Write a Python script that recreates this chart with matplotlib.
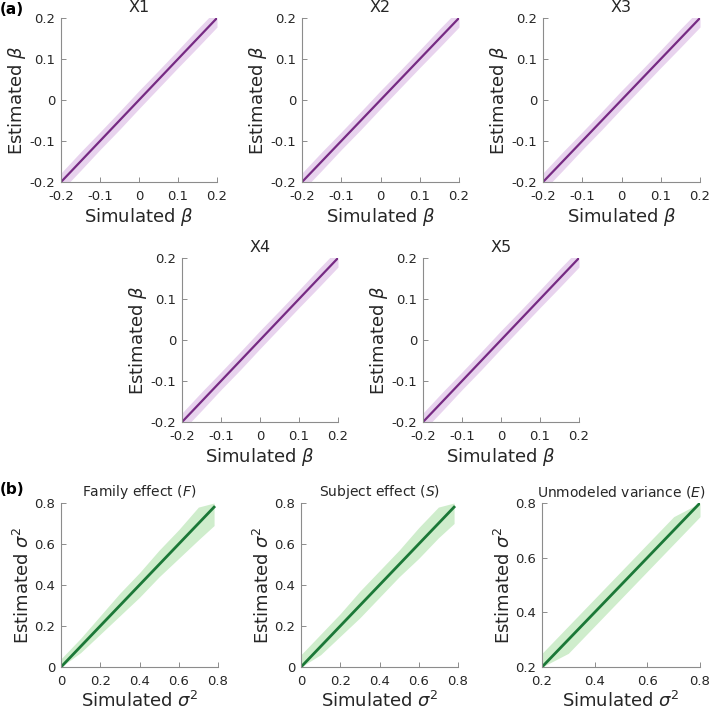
import numpy as np
import matplotlib
matplotlib.use('Agg')
import matplotlib.pyplot as plt

W, H = 709, 712

# --- data ---
# fixed effects X1..X5: identity line and spread of estimates
beta_titles = ['X1', 'X2', 'X3', 'X4', 'X5']
beta_x = [-0.2, -0.15, -0.1, -0.05, 0.0, 0.05, 0.1, 0.15, 0.2]
beta_lo = [-0.222, -0.172, -0.121, -0.072, -0.021, 0.029, 0.079, 0.128, 0.178]
beta_hi = [-0.178, -0.127, -0.078, -0.028, 0.023, 0.072, 0.122, 0.173, 0.222]
beta_ticks = [-0.2, -0.1, 0, 0.1, 0.2]
beta_ticklabels = ['-0.2', '-0.1', '0', '0.1', '0.2']

# variance components
var_titles = ['Family effect ($F$)', 'Subject effect ($S$)', 'Unmodeled variance ($E$)']
fam_x = [0.0, 0.1, 0.2, 0.3, 0.4, 0.5, 0.6, 0.7, 0.78]
fam_lo = [0.0, 0.07, 0.16, 0.25, 0.34, 0.44, 0.53, 0.62, 0.69]
fam_hi = [0.04, 0.14, 0.25, 0.36, 0.46, 0.57, 0.67, 0.78, 0.80]
sub_x = [0.0, 0.1, 0.2, 0.3, 0.4, 0.5, 0.6, 0.7, 0.78]
sub_lo = [0.0, 0.06, 0.15, 0.24, 0.34, 0.44, 0.53, 0.63, 0.70]
sub_hi = [0.06, 0.16, 0.26, 0.37, 0.47, 0.57, 0.68, 0.78, 0.80]
unm_x = [0.2, 0.3, 0.4, 0.5, 0.6, 0.7, 0.8]
unm_lo = [0.2, 0.25, 0.35, 0.45, 0.55, 0.65, 0.75]
unm_hi = [0.25, 0.35, 0.45, 0.55, 0.65, 0.75, 0.8]
var_series = [(fam_x, fam_lo, fam_hi), (sub_x, sub_lo, sub_hi), (unm_x, unm_lo, unm_hi)]
var_lims = [(0, 0.8), (0, 0.8), (0.2, 0.8)]
var_ticks = [[0, 0.2, 0.4, 0.6, 0.8], [0, 0.2, 0.4, 0.6, 0.8], [0.2, 0.4, 0.6, 0.8]]

PURPLE = '#762a83'
PURPLE_L = '#e8d3ee'
GREEN = '#1b7837'
GREEN_L = '#cfedcc'
TXT = '#262626'
SPINE = '#8c8c8c'


def rect(l, r, t, b):
    return [l / W, 1 - b / H, (r - l) / W, (b - t) / H]


def style(ax):
    for s in ['top', 'right']:
        ax.spines[s].set_visible(False)
    for s in ['left', 'bottom']:
        ax.spines[s].set_color(SPINE)
        ax.spines[s].set_linewidth(0.8)
    ax.tick_params(direction='in', length=3.5, width=0.7, color=SPINE,
                   labelsize=9.5, labelcolor=TXT)
    ax.tick_params(axis='x', pad=6)
    ax.tick_params(axis='y', pad=4)


fig = plt.figure(figsize=(W / 100, H / 100), dpi=100)

beta_boxes = [(61, 217, 18, 182), (302, 459, 18, 182), (543, 700, 18, 182),
              (182, 338, 258, 422), (423, 579, 258, 422)]

for title, box in zip(beta_titles, beta_boxes):
    ax = fig.add_axes(rect(*box))
    ax.fill_between(beta_x, beta_lo, beta_hi, color=PURPLE_L, lw=0)
    ax.plot([beta_x[0], beta_x[-1]], [beta_x[0], beta_x[-1]], color=PURPLE, lw=1.6)
    ax.set_xlim(-0.2, 0.2)
    ax.set_ylim(-0.2, 0.2)
    ax.set_xticks(beta_ticks)
    ax.set_xticklabels(beta_ticklabels)
    ax.set_yticks(beta_ticks)
    ax.set_yticklabels(beta_ticklabels)
    style(ax)
    ax.set_title(title, fontsize=11.5, color=TXT, pad=4)
    ax.set_xlabel(r'Simulated $\beta$', fontsize=13, color=TXT, labelpad=2)
    ax.set_ylabel(r'Estimated $\beta$', fontsize=13, color=TXT, labelpad=1)

var_boxes = [(61, 218, 503, 667), (301, 458, 503, 667), (542, 700, 503, 667)]

for title, box, (vx, vlo, vhi), lim, tk in zip(var_titles, var_boxes, var_series,
                                               var_lims, var_ticks):
    ax = fig.add_axes(rect(*box))
    ax.fill_between(vx, vlo, vhi, color=GREEN_L, lw=0)
    ax.plot([vx[0], vx[-1]], [vx[0], vx[-1]], color=GREEN, lw=2.0)
    ax.set_xlim(*lim)
    ax.set_ylim(*lim)
    ax.set_xticks(tk)
    ax.set_yticks(tk)
    ax.set_xticklabels(['%g' % t for t in tk])
    ax.set_yticklabels(['%g' % t for t in tk])
    style(ax)
    ax.set_title(title, fontsize=10, color=TXT, pad=5)
    ax.set_xlabel(r'Simulated $\sigma^2$', fontsize=13, color=TXT, labelpad=2)
    ax.set_ylabel(r'Estimated $\sigma^2$', fontsize=13, color=TXT, labelpad=1)

fig.text(0.0, 1 - 10 / H, '(a)', fontsize=11, fontweight='bold', va='center', ha='left')
fig.text(0.0, 1 - 490 / H, '(b)', fontsize=11, fontweight='bold', va='center', ha='left')

fig.savefig('out.png', dpi=100, facecolor='white')
